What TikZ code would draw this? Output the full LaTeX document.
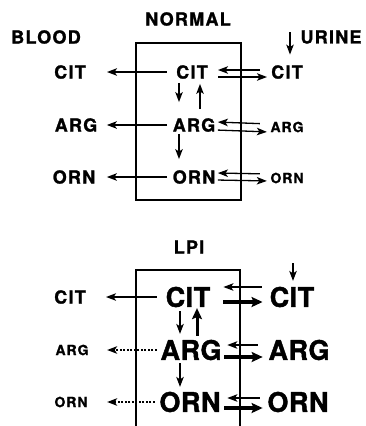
\documentclass[tikz,border=0pt]{standalone}
\usepackage{fontspec}
\setmainfont{TeX Gyre Heros}[LetterSpace=7, BoldFeatures={FakeBold=1.2}]
\newfontfamily\bigfont{TeX Gyre Heros}[LetterSpace=2, BoldFeatures={FakeBold=1.5}]
\usetikzlibrary{arrows.meta}

\begin{document}
\begin{tikzpicture}[x=1pt, y=-1pt, line width=1.3pt,
	every node/.style={inner sep=0pt},
	md/.style={font=\bfseries\fontsize{18}{18}\selectfont},
	sm/.style={font=\bfseries\fontsize{14}{14}\selectfont},
	bg/.style={font=\bigfont\bfseries\fontsize{27}{27}\selectfont},
	arr/.style={-{Stealth[length=10pt, width=7.5pt, inset=2.5pt]}},
	thk/.style={line width=3.5pt, -{Stealth[length=11pt, width=10pt, inset=2pt]}},
	dots/.style={arr, dash pattern=on 2pt off 1.5pt}]
	\useasboundingbox (0,0) rectangle (365,426);
	\node[md] (normal) at (188,19) {NORMAL};
	\node[md] (blood) at (46,37) {BLOOD};
	\node[md] (urine) at (331,37) {URINE};
	\draw (136,43) rectangle (241,200);
	\node[md] (bcit1) at (70,72) {CIT};
	\node[md] (ncit1) at (192,72) {CIT};
	\node[md] (ucit1) at (287,72) {CIT};
	\node[md] (barg1) at (76,125) {ARG};
	\node[md] (narg1) at (194,125) {ARG};
	\node[sm] (uarg1) at (287,127) {ARG};
	\node[md] (born1) at (74,177) {ORN};
	\node[md] (norn1) at (194,177) {ORN};
	\node[sm] (uorn1) at (287,178) {ORN};
	\coordinate (uin1) at (290,32);
	\draw[arr, shorten >=10pt] (uin1) -- ([xshift=3pt]ucit1.north);
	\draw[arr, shorten <=8.6pt, shorten >=20.6pt] (ncit1.west) -- (bcit1.east);
	\draw[arr, shorten <=5pt, shorten >=9pt] (narg1.west) -- (barg1.east);
	\draw[arr, shorten <=5pt, shorten >=11pt] (norn1.west) -- (born1.east);
	\draw[arr, shorten <=10.6pt, shorten >=9.6pt] ([yshift=2pt]ucit1.west) -- ([yshift=2pt]ncit1.east);
	\draw[arr, shorten <=9.6pt, shorten >=3.6pt] ([yshift=-5pt]ncit1.east) -- ([yshift=-5pt]ucit1.west);
	\draw[arr, shorten <=10pt, shorten >=2pt] ([yshift=3pt]uarg1.west) -- ([yshift=3pt]narg1.east);
	\draw[arr, shorten <=2pt, shorten >=3pt] ([yshift=-5pt]narg1.east) -- ([yshift=-5pt]uarg1.west);
	\draw[arr, shorten <=10pt, shorten >=2pt] ([yshift=4pt]uorn1.west) -- ([yshift=4pt]norn1.east);
	\draw[arr, shorten <=2pt, shorten >=3pt] ([yshift=-3pt]norn1.east) -- ([yshift=-3pt]uorn1.west);
	\draw[arr, shorten <=3.5pt, shorten >=15.5pt] ([xshift=-13pt]ncit1.south) -- ([xshift=-15pt]narg1.north);
	\draw[arr, shorten <=8.5pt, shorten >=4.5pt] ([xshift=6pt]narg1.north) -- ([xshift=8pt]ncit1.south);
	\draw[arr, shorten <=1.5pt, shorten >=10.5pt] ([xshift=-15pt]narg1.south) -- ([xshift=-15pt]norn1.north);

	\node[md] (lpi) at (189,247) {LPI};
	\draw (136,426) -- (136,270) -- (240,270) -- (240,426);
	\node[md] (bcit2) at (70,297) {CIT};
	\node[bg] (ncit2) at (188,297) {CIT};
	\node[bg] (ucit2) at (292,297) {CIT};
	\node[sm] (barg2) at (72,350) {ARG};
	\node[bg] (narg2) at (191,350) {ARG};
	\node[bg] (uarg2) at (299,350) {ARG};
	\node[sm] (born2) at (71,402) {ORN};
	\node[bg] (norn2) at (190,402) {ORN};
	\node[bg] (uorn2) at (298,402) {ORN};
	\coordinate (uin2) at (293,263);
	\draw[arr, shorten >=5.3pt] (uin2) -- ([xshift=1pt]ucit2.north);
	\draw[arr, shorten <=8.5pt, shorten >=19.6pt] (ncit2.west) -- (bcit2.east);
	\draw[dots, shorten <=3.2pt, shorten >=18pt] (narg2.west) -- (barg2.east);
	\draw[dots, shorten <=4.2pt, shorten >=19pt] (norn2.west) -- (born2.east);
	\draw[arr, shorten <=7.5pt, shorten >=12.5pt] ([yshift=10pt]ucit2.west) -- ([yshift=10pt]ncit2.east);
	\draw[thk, shorten <=12.5pt, shorten >=6.5pt] ([yshift=-5pt]ncit2.east) -- ([yshift=-5pt]ucit2.west);
	\draw[arr, shorten <=10.2pt, shorten >=5.2pt] ([yshift=5pt]uarg2.west) -- ([yshift=5pt]narg2.east);
	\draw[thk, shorten <=2.2pt, shorten >=5.2pt] ([yshift=-7pt]narg2.east) -- ([yshift=-7pt]uarg2.west);
	\draw[arr, shorten <=7.2pt, shorten >=6.2pt] ([yshift=4pt]uorn2.west) -- ([yshift=4pt]norn2.east);
	\draw[thk, shorten <=3.2pt, shorten >=4.2pt] ([yshift=-6pt]norn2.east) -- ([yshift=-6pt]uorn2.west);
	\draw[arr, shorten <=3.3pt, shorten >=5.3pt] ([xshift=-8pt]ncit2.south) -- ([xshift=-11pt]narg2.north);
	\draw[thk, line width=3pt, shorten <=3.3pt, shorten >=0.3pt] ([xshift=6pt]narg2.north) -- ([xshift=9pt]ncit2.south);
	\draw[arr, shorten <=2.3pt, shorten >=4.3pt] ([xshift=-11pt]narg2.south) -- ([xshift=-10pt]norn2.north);
\end{tikzpicture}
\end{document}
